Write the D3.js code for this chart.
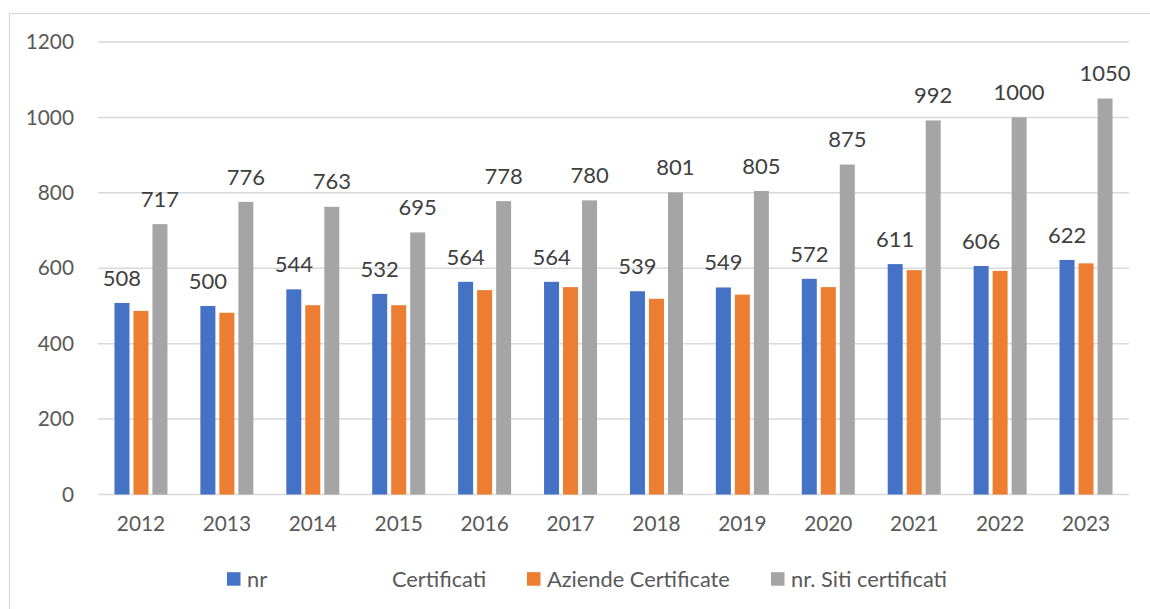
<!DOCTYPE html>
<html lang="it">
<head>
<meta charset="utf-8">
<title>Certificati</title>
<script src="https://d3js.org/d3.v7.min.js"></script>
<style>
	body { margin: 0; background: #fff; }
	text { font-family: Lato, "Open Sans", sans-serif; }
</style>
</head>
<body>
<div id="chart"></div>
<script>
	var years = ["2012", "2013", "2014", "2015", "2016", "2017", "2018", "2019", "2020", "2021", "2022", "2023"];
	var nrCertificati = [508, 500, 544, 532, 564, 564, 539, 549, 572, 611, 606, 622];
	var aziendeCertificate = [487, 482, 502, 502, 542, 550, 519, 530, 550, 595, 593, 613];
	var sitiCertificati = [717, 776, 763, 695, 778, 780, 801, 805, 875, 992, 1000, 1050];
	var yTicks = [0, 200, 400, 600, 800, 1000, 1200];

	var series = [
		{key: "nr", name: "nr", name2: "Certificati", values: nrCertificati, color: "#4472C4", label: true},
		{key: "az", name: "Aziende Certificate", values: aziendeCertificate, color: "#ED7D31", label: false},
		{key: "siti", name: "nr. Siti certificati", values: sitiCertificati, color: "#A5A5A5", label: true}
	];

	var W = 1150, H = 609;
	var margin = {top: 42, right: 21, bottom: 114.5, left: 98},
		width = W - margin.left - margin.right,
		height = H - margin.top - margin.bottom;

	var svg = d3.select("#chart").append("svg")
		.attr("width", W)
		.attr("height", H);

	// frame
	svg.append("rect")
		.attr("x", 9.5).attr("y", 13.5)
		.attr("width", 1160).attr("height", 620)
		.attr("fill", "none")
		.attr("stroke", "#D9D9D9")
		.attr("stroke-width", 1.3);

	var g = svg.append("g")
		.attr("transform", "translate(" + margin.left + "," + margin.top + ")");

	var x0 = d3.scaleBand().domain(years).range([0, width]);
	var x1 = d3.scaleBand().domain(series.map(function(s) { return s.key; }))
		.range([0, 53]).paddingInner(4 / 19);
	var y = d3.scaleLinear().domain([0, 1200]).range([height, 0]);

	// gridlines
	g.append("g").selectAll("line")
		.data(yTicks)
		.enter().append("line")
		.attr("x1", 0).attr("x2", width)
		.attr("y1", function(d) { return y(d); })
		.attr("y2", function(d) { return y(d); })
		.attr("stroke", "#D9D9D9")
		.attr("stroke-width", 1.5);

	var yAxis = d3.axisLeft(y).tickValues(yTicks).tickFormat(d3.format("d")).tickSize(0).tickPadding(24);
	g.append("g").call(yAxis)
		.call(function(a) { a.select(".domain").remove(); })
		.selectAll("text")
		.attr("font-family", "Lato")
		.attr("font-size", 20.8)
		.attr("fill", "#595959");

	var xAxis = d3.axisBottom(x0).tickSize(0).tickPadding(22);
	g.append("g")
		.attr("transform", "translate(0," + height + ")")
		.call(xAxis)
		.call(function(a) { a.select(".domain").remove(); })
		.selectAll("text")
		.attr("font-family", "Lato")
		.attr("font-size", 20.8)
		.attr("fill", "#595959");

	var groupStart = function(yr) { return x0(yr) + x0.bandwidth() / 2 - 26.5; };

	series.forEach(function(s) {
		var sg = g.append("g");
		sg.selectAll("rect")
			.data(s.values)
			.enter().append("rect")
			.attr("x", function(d, i) { return groupStart(years[i]) + x1(s.key); })
			.attr("y", function(d) { return y(d); })
			.attr("width", x1.bandwidth())
			.attr("height", function(d) { return y(0) - y(d); })
			.attr("fill", s.color);
		if (s.label) {
			sg.selectAll("text")
				.data(s.values)
				.enter().append("text")
				.attr("x", function(d, i) { return groupStart(years[i]) + x1(s.key) + x1.bandwidth() / 2; })
				.attr("y", function(d) { return y(d) - 25; })
				.attr("dy", "0.35em")
				.attr("text-anchor", "middle")
				.attr("font-size", 22)
				.attr("fill", "#404040")
				.text(function(d) { return d; });
		}
	});

	// legend
	var legendX = [227, 527, 771];
	var lg = svg.append("g").attr("transform", "translate(0,586.5)");
	series.forEach(function(s, i) {
		lg.append("rect")
			.attr("x", legendX[i]).attr("y", -14.3)
			.attr("width", 13.5).attr("height", 13.5)
			.attr("fill", s.color);
		lg.append("text")
			.attr("x", legendX[i] + 20)
			.attr("font-size", 21.8)
			.attr("fill", "#595959")
			.text(s.name);
		if (s.name2) {
			lg.append("text")
				.attr("x", 392)
				.attr("font-size", 21.8)
				.attr("fill", "#595959")
				.text(s.name2);
		}
	});
</script>
</body>
</html>
